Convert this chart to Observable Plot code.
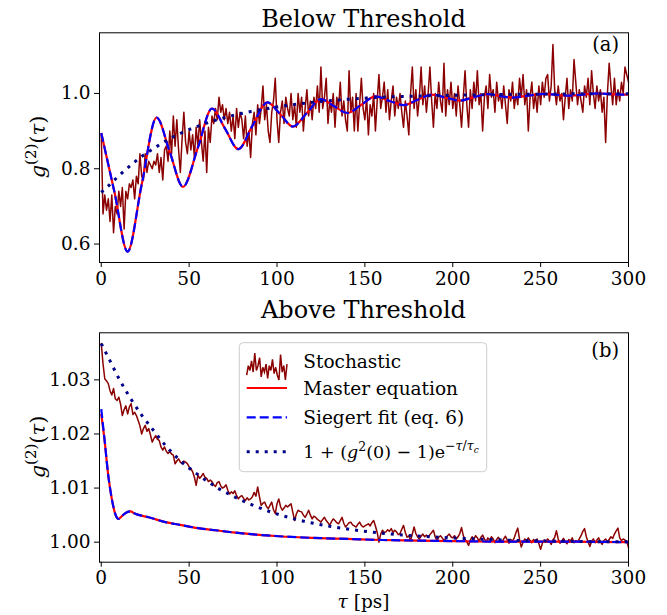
<!DOCTYPE html>
<html>
<head>
<meta charset="utf-8">
<script src="https://cdn.jsdelivr.net/npm/d3@7"></script>
<script src="https://cdn.jsdelivr.net/npm/@observablehq/plot@0.6"></script>
<style>
  html, body { margin: 0; padding: 0; background: white; }
  #chart { position: relative; width: 667px; height: 615px; font-family: "DejaVu Serif", serif; }
  #chart svg { position: absolute; left: 0; overflow: visible; }
</style>
</head>
<body>
<div id="chart"></div>
<script>
// ---------------- data ----------------
const xTicks = [0, 50, 100, 150, 200, 250, 300];
const topYTicks = [0.6, 0.8, 1.0];
const bottomYTicks = [1.00, 1.01, 1.02, 1.03];
const titles = ["Below Threshold", "Above Threshold"];
const panelTags = ["(a)", "(b)"];
const legendLabels = ["Stochastic", "Master equation", "Siegert fit (eq. 6)"];

// stochastic samples, tau = 0..300 ps in 1 ps steps
const tauGrid = d3.range(0, 301);

const topStoch = [
  0.89,0.68,0.73,0.69,0.72,0.66,0.73,0.63,0.70,0.68,
  0.74,0.70,0.75,0.64,0.74,0.72,0.76,0.75,0.77,0.72,
  0.78,0.76,0.84,0.78,0.77,0.84,0.79,0.82,0.81,0.80,
  0.82,0.81,0.84,0.79,0.83,0.77,0.85,0.86,0.82,0.90,
  0.84,0.94,0.86,0.93,0.85,0.79,0.88,0.95,0.87,0.84,
  0.90,0.85,0.89,0.83,0.91,0.86,0.93,0.87,0.82,0.90,
  0.79,0.91,0.87,0.94,0.92,0.96,0.93,0.99,0.95,0.97,
  0.93,0.96,0.92,0.95,0.90,0.94,0.88,0.96,0.91,0.95,
  0.93,0.88,0.94,0.86,0.90,0.83,0.92,0.95,0.89,0.97,
  0.92,0.96,1.02,0.93,0.97,0.90,0.87,0.95,0.98,1.04,
  0.93,0.87,0.95,0.98,0.92,0.99,0.96,0.94,1.00,0.93,
  0.97,0.91,1.00,0.95,0.99,0.90,0.96,1.01,0.94,0.98,
  0.93,0.99,0.96,1.02,0.95,1.07,0.96,0.99,1.04,0.92,
  0.98,0.95,1.00,0.91,0.99,0.96,1.03,0.94,0.98,0.93,
  0.90,1.06,0.95,0.99,0.90,1.00,0.90,0.97,1.04,0.96,
  0.93,0.99,0.89,0.97,0.94,1.00,0.90,0.98,1.05,0.96,
  0.99,1.03,0.95,1.01,0.93,0.98,1.02,0.94,0.99,0.96,
  1.00,0.95,0.91,0.98,0.94,0.89,1.00,1.07,0.96,1.01,
  0.94,0.99,1.07,0.97,1.02,0.95,1.00,1.07,0.98,0.91,
  1.00,0.96,1.03,0.98,0.95,1.08,0.94,1.01,0.97,1.03,
  0.96,1.00,0.94,1.02,0.97,0.91,0.99,1.06,0.97,0.91,
  1.01,0.96,1.03,0.98,1.06,0.97,1.00,0.90,0.99,1.02,
  0.96,1.05,0.99,1.01,0.95,1.03,0.98,1.00,0.96,1.02,
  0.97,0.92,1.01,0.98,1.03,0.96,1.00,0.97,1.04,0.99,
  1.05,0.97,1.01,0.90,0.99,1.03,0.96,1.00,0.95,1.02,
  0.97,1.03,0.99,1.04,1.05,0.98,1.02,1.13,1.01,0.97,
  1.02,0.98,1.00,0.93,0.99,1.04,0.96,1.01,0.98,1.09,
  1.03,0.97,1.01,0.98,0.95,1.02,0.99,1.04,0.97,1.06,
  1.00,0.96,1.02,0.98,1.01,0.95,0.99,0.87,1.00,1.08,
  1.02,0.97,1.04,0.97,1.01,0.98,1.03,1.00,1.07,1.05,
  1.03
];

const topMaster = [
  [0,0.895],[7.5,0.738],[15,0.580],[23,0.758],[31.5,0.936],[39,0.844],[46.5,0.752],
  [55,0.856],[63,0.960],[70.5,0.906],[78,0.852],[86,0.914],[94.5,0.976],[102,0.944],
  [109,0.912],[117,0.948],[125,0.985],[132.5,0.966],[140,0.948],[148,0.970],[156,0.992],
  [164,0.980],[172,0.969],[180,0.983],[188,0.997],[196,0.989],[204,0.981],[212,0.990],
  [220,0.998],[227,0.993],[234,0.989],[243,0.994],[252,0.999],[259,0.996],[266,0.994],
  [274,0.997],[283,1.000],[290,0.998],[298,0.997],[300,0.997]
];
const topSiegert = [
  [0,0.895],[7.5,0.738],[15,0.580],[23,0.758],[31.5,0.936],[39,0.844],[46.5,0.752],
  [55,0.856],[63,0.960],[70.5,0.906],[78,0.852],[86,0.914],[94.5,0.976],[102,0.944],
  [109,0.912],[117,0.948],[125,0.985],[132.5,0.966],[140,0.948],[148,0.970],[156,0.992],
  [164,0.980],[172,0.969],[180,0.983],[188,0.997],[196,0.989],[204,0.981],[212,0.990],
  [220,0.998],[227,0.993],[234,0.989],[243,0.994],[252,0.999],[259,0.996],[266,0.994],
  [274,0.997],[283,1.000],[290,0.998],[298,0.997],[300,0.997]
];
const topExp = [
  [0,0.737],[3.8,0.753],[9.9,0.781],[16.2,0.807],[22.8,0.832],[29.9,0.854],[37.5,0.876],
  [45.1,0.894],[52.7,0.909],[61.2,0.923],[68.8,0.934],[77.2,0.944],[85.1,0.952],[93.7,0.959],
  [102.2,0.966],[110.8,0.971],[119.3,0.976],[127.9,0.980],[136.4,0.983],[145,0.986],
  [160,0.990],[180,0.993],[200,0.995],[225,0.997],[250,0.998],[275,0.999],[300,0.999]
];

const bottomStoch = [
  1.0367,1.0330,1.0302,1.0298,1.0293,1.0280,1.0272,1.0284,1.0265,1.0262,
  1.0268,1.0255,1.0234,1.0245,1.0252,1.0237,1.0250,1.0256,1.0236,1.0240,
  1.0234,1.0225,1.0215,1.0200,1.0210,1.0216,1.0205,1.0210,1.0198,1.0185,
  1.0192,1.0197,1.0190,1.0188,1.0176,1.0170,1.0176,1.0168,1.0164,1.0168,
  1.0163,1.0161,1.0145,1.0150,1.0154,1.0148,1.0145,1.0150,1.0148,1.0145,
  1.0139,1.0136,1.0130,1.0120,1.0105,1.0124,1.0118,1.0122,1.0127,1.0120,
  1.0118,1.0112,1.0115,1.0112,1.0106,1.0103,1.0110,1.0112,1.0104,1.0100,
  1.0102,1.0106,1.0096,1.0089,1.0093,1.0090,1.0095,1.0086,1.0080,1.0084,
  1.0086,1.0081,1.0077,1.0082,1.0078,1.0080,1.0084,1.0092,1.0085,1.0102,
  1.0084,1.0068,1.0072,1.0074,1.0066,1.0062,1.0068,1.0074,1.0060,1.0053,
  1.0071,1.0080,1.0066,1.0059,1.0063,1.0068,1.0065,1.0068,1.0071,1.0055,
  1.0040,1.0052,1.0059,1.0057,1.0056,1.0050,1.0046,1.0052,1.0059,1.0050,
  1.0043,1.0048,1.0046,1.0042,1.0040,1.0037,1.0042,1.0046,1.0040,1.0036,
  1.0031,1.0038,1.0043,1.0040,1.0036,1.0034,1.0040,1.0046,1.0035,1.0028,
  1.0032,1.0036,1.0037,1.0032,1.0030,1.0028,1.0033,1.0037,1.0031,1.0028,
  1.0030,1.0032,1.0034,1.0030,1.0036,1.0040,1.0030,1.0018,1.0000,1.0015,
  1.0022,1.0018,1.0019,1.0023,1.0020,1.0025,1.0018,1.0022,1.0019,1.0014,
  1.0016,1.0024,1.0031,1.0018,1.0009,1.0012,1.0003,1.0015,1.0028,1.0016,
  1.0010,1.0006,1.0011,1.0015,1.0010,1.0013,1.0009,1.0014,1.0018,1.0022,
  1.0010,1.0003,1.0009,1.0012,1.0008,1.0003,1.0006,1.0012,1.0015,1.0010,
  1.0008,1.0012,1.0006,1.0010,1.0016,1.0027,1.0012,1.0005,1.0001,0.9994,
  1.0004,1.0010,1.0005,1.0012,1.0008,1.0002,1.0009,1.0013,1.0006,1.0001,
  1.0008,1.0004,1.0010,1.0006,0.9999,1.0005,1.0009,1.0003,1.0000,1.0006,
  1.0011,1.0004,0.9998,1.0005,1.0002,1.0008,1.0018,1.0026,1.0005,0.9991,
  1.0000,1.0006,1.0002,1.0008,1.0003,0.9999,1.0005,1.0001,1.0006,0.9997,
  0.9987,0.9998,1.0004,1.0000,1.0006,1.0002,0.9996,1.0004,1.0009,1.0021,
  1.0006,0.9998,1.0002,1.0007,1.0001,0.9997,1.0005,1.0002,1.0008,0.9999,
  1.0003,1.0000,1.0006,1.0012,1.0020,1.0025,1.0010,1.0001,0.9992,1.0002,
  1.0006,0.9999,1.0004,1.0008,1.0001,0.9996,1.0003,1.0006,1.0000,1.0005,
  1.0010,1.0007,1.0015,1.0021,1.0026,1.0008,1.0003,1.0006,1.0004,1.0002,
  0.9990
];

const bottomMaster = [
  [0,1.0237],[1,1.0212],[2,1.0185],[3,1.0153],[4,1.0123],[5,1.0100],[6,1.0080],[7,1.0064],
  [8,1.0052],[9,1.0045],[9.8,1.0043],[11,1.0046],[13,1.0052],[15,1.0056],[16.6,1.0057],
  [19,1.0053],[23,1.0049],[27,1.0046],[36.5,1.0037],[45,1.0032],[55,1.0026],[65,1.0022],
  [75,1.0018],[88,1.0014],[101,1.0011],[120,1.0008],[140,1.0006],[160,1.0004],[180,1.0003],
  [200,1.0002],[230,1.0001],[260,1.0001],[300,1.0000]
];
const bottomSiegert = [
  [0,1.0246],[1,1.0216],[2,1.0186],[3,1.0153],[4,1.0123],[5,1.0100],[6,1.0080],[7,1.0064],
  [8,1.0052],[9,1.0045],[9.8,1.0043],[11,1.0046],[13,1.0052],[15,1.0056],[16.6,1.0057],
  [19,1.0053],[23,1.0049],[27,1.0046],[36.5,1.0037],[45,1.0032],[55,1.0026],[65,1.0022],
  [75,1.0018],[88,1.0014],[101,1.0011],[120,1.0008],[140,1.0006],[160,1.0004],[180,1.0003],
  [200,1.0002],[230,1.0001],[260,1.0001],[300,1.0000]
];
const bottomExp = [
  [0,1.0367],[5,1.0335],[9.8,1.0304],[17.4,1.0262],[23.2,1.0234],[28.9,1.0210],[36.5,1.0179],
  [45.9,1.0148],[55.4,1.0124],[65.8,1.0101],[74.4,1.0086],[85.8,1.0069],[97.2,1.0055],
  [113.6,1.0040],[130.7,1.0029],[147.8,1.0021],[164.8,1.0015],[181.9,1.0011],[199,1.0008],
  [220,1.0005],[240,1.0003],[260,1.0002],[280,1.0001],[300,1.0001]
];

// ---------------- styles ----------------
const C_STOCH = "#8b0000", C_MASTER = "#ff0000", C_SIEG = "#0000ff", C_EXP = "#00008b";
const FONT = "DejaVu Serif";
const DOTS = "3,6";
const DASH = "9,4";

function panel({stoch, master, siegert, expo, yDomain, yTicks, yFmt, height, mb}) {
  return Plot.plot({
    width: 667, height,
    marginLeft: 99, marginRight: 39, marginTop: 32.3, marginBottom: mb,
    x: {domain: [-1, 300], ticks: xTicks, tickSize: 5, tickPadding: 4, label: null},
    y: {domain: yDomain, ticks: yTicks, tickFormat: d3.format(yFmt), tickSize: 5, tickPadding: 4, label: null},
    style: {fontFamily: FONT, fontSize: "18.5px", color: "black", background: "white"},
    marks: [
      Plot.line(stoch, {x: (d, i) => tauGrid[i], y: d => d, stroke: C_STOCH, strokeWidth: 1.5}),
      Plot.line(master, {x: d => d[0], y: d => d[1], stroke: C_MASTER, strokeWidth: 2.2, curve: "monotone-x", strokeLinecap: "butt"}),
      Plot.line(siegert, {x: d => d[0], y: d => d[1], stroke: C_SIEG, strokeWidth: 2.2, strokeDasharray: DASH, strokeLinecap: "butt", curve: "monotone-x"}),
      Plot.line(expo, {x: d => d[0], y: d => d[1], stroke: C_EXP, strokeWidth: 3, strokeDasharray: DOTS, strokeLinecap: "butt", curve: "monotone-x"}),
      Plot.frame({stroke: "black", strokeWidth: 1})
    ]
  });
}

const chart = d3.select("#chart");

const topSvg = panel({stoch: topStoch, master: topMaster, siegert: topSiegert, expo: topExp,
  yDomain: [0.551, 1.161], yTicks: topYTicks, yFmt: ".1f", height: 300, mb: 38});
const botSvg = panel({stoch: bottomStoch, master: bottomMaster, siegert: bottomSiegert, expo: bottomExp,
  yDomain: [0.9963, 1.0387], yTicks: bottomYTicks, yFmt: ".2f", height: 315, mb: 53.3});

topSvg.style.top = "0px";
botSvg.style.top = "300px";
chart.node().appendChild(topSvg);
chart.node().appendChild(botSvg);

function addTexts(svgNode, idx, frameMidY) {
  const s = d3.select(svgNode);
  s.append("text").attr("x", 363.5).attr("y", idx === 0 ? 26.7 : 18.3)
    .attr("text-anchor", "middle").attr("font-family", FONT).attr("font-size", 24)
    .attr("fill", "black").text(titles[idx]);
  s.append("text").attr("x", 619).attr("y", idx === 0 ? 51 : 57)
    .attr("text-anchor", "end").attr("font-family", FONT).attr("font-size", 19.5)
    .attr("fill", "black").text(panelTags[idx]);
  const yl = s.append("text").attr("transform", `translate(45,${frameMidY}) rotate(-90)`)
    .attr("text-anchor", "middle").attr("font-family", FONT).attr("font-size", 21).attr("fill", "black");
  yl.append("tspan").attr("font-style", "italic").text("g");
  yl.append("tspan").attr("font-size", 15).attr("dy", -9).text("(2)");
  yl.append("tspan").attr("dy", 9).text("(");
  yl.append("tspan").attr("font-style", "italic").text("τ");
  yl.append("tspan").text(")");
}
addTexts(topSvg, 0, 147);
addTexts(botSvg, 1, 147);

const bs = d3.select(botSvg);
const xl = bs.append("text").attr("x", 363.5).attr("y", 308).attr("text-anchor", "middle")
  .attr("font-family", FONT).attr("font-size", 18.5).attr("fill", "black");
xl.append("tspan").attr("font-style", "italic").text("τ");
xl.append("tspan").text(" [ps]");

// legend
const lg = bs.append("g").attr("text-anchor", "start");
lg.append("rect").attr("x", 239.3).attr("y", 42.7).attr("width", 247.4).attr("height", 129)
  .attr("rx", 4).attr("fill", "white").attr("fill-opacity", 0.85).attr("stroke", "#cccccc").attr("stroke-width", 1);
const snip = topStoch.slice(120, 146);
const hx = d3.scaleLinear().domain([0, snip.length - 1]).range([246.7, 287]);
const hy = d3.scaleLinear().domain(d3.extent(snip)).range([80, 53]);
lg.append("path").attr("d", d3.line().x((d, i) => hx(i)).y(d => hy(d))(snip))
  .attr("fill", "none").attr("stroke", C_STOCH).attr("stroke-width", 1.5);
lg.append("line").attr("x1", 246.7).attr("x2", 287).attr("y1", 88).attr("y2", 88)
  .attr("stroke", C_MASTER).attr("stroke-width", 2.2);
lg.append("line").attr("x1", 246.7).attr("x2", 287).attr("y1", 117.3).attr("y2", 117.3)
  .attr("stroke", C_SIEG).attr("stroke-width", 2.2).attr("stroke-dasharray", DASH);
lg.append("line").attr("x1", 246.7).attr("x2", 287).attr("y1", 151.7).attr("y2", 151.7)
  .attr("stroke", C_EXP).attr("stroke-width", 3).attr("stroke-dasharray", DOTS);
const ly = [68, 95, 123.5];
legendLabels.forEach((t, i) => {
  lg.append("text").attr("x", 303.3).attr("y", ly[i]).attr("text-anchor", "start").attr("font-family", FONT)
    .attr("font-size", 18.5).attr("fill", "black").text(t);
});
const ft = lg.append("text").attr("x", 303.3).attr("y", 157.5).attr("text-anchor", "start").attr("font-family", FONT)
  .attr("font-size", 17.5).attr("fill", "black");
ft.append("tspan").text("1 + (");
ft.append("tspan").attr("font-style", "italic").text("g");
ft.append("tspan").attr("font-size", 12.5).attr("dy", -7).text("2");
ft.append("tspan").attr("dy", 7).text("(0) − 1)e");
ft.append("tspan").attr("font-size", 12.5).attr("dy", -8).text("−");
ft.append("tspan").attr("font-size", 12.5).attr("font-style", "italic").text("τ");
ft.append("tspan").attr("font-size", 12.5).text("/");
ft.append("tspan").attr("font-size", 12.5).attr("font-style", "italic").text("τ");
ft.append("tspan").attr("font-size", 9).attr("font-style", "italic").attr("dy", 3).text("c");
</script>
</body>
</html>
